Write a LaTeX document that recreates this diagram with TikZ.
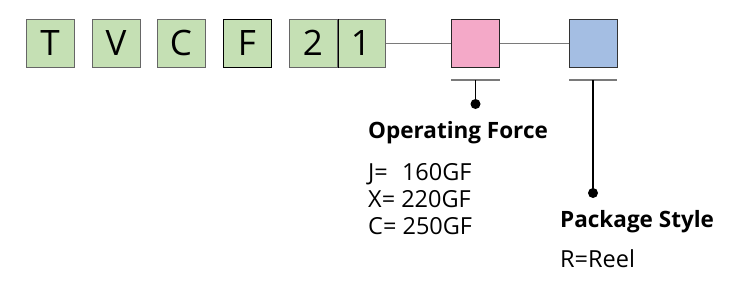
\documentclass[tikz,border=0pt]{standalone}
\usepackage{fontspec}
\setmainfont{Open Sans}
\definecolor{gfill}{HTML}{C5E0B4}
\definecolor{pfill}{HTML}{F4A9C8}
\definecolor{bfill}{HTML}{A4BEE3}
\definecolor{lgray}{HTML}{7A7A7A}
\begin{document}
\begin{tikzpicture}[x=1pt,y=-1pt,
  cbox/.style={line width=1.2pt,minimum width=48pt,minimum height=48pt,inner sep=0pt,anchor=north west,fill=#1},
  letter/.style={font=\fontsize{35}{35}\selectfont,anchor=base},
  conn/.style={draw=lgray,line width=1.6pt},
  ulin/.style={draw=lgray,line width=1.6pt},
  vlin/.style={draw=black,line width=1.3pt},
  dotc/.style={circle,fill=black,inner sep=0pt,minimum size=10pt},
  title/.style={font=\bfseries\fontsize{22.5}{22.5}\selectfont,anchor=base west,inner sep=0pt},
  body/.style={font=\fontsize{23.5}{23.5}\selectfont,anchor=base west,inner sep=0pt}]
\useasboundingbox (0,0) rectangle (755,297);
\node[cbox=gfill,draw=gray!80!black] (bT) at (26,19) {};
\node[cbox=gfill,draw=gray!80!black] (bV) at (92,19) {};
\node[cbox=gfill,draw=gray!80!black] (bC) at (157,19) {};
\node[cbox=gfill,draw=black] (bF) at (223,19) {};
\node[cbox=gfill,draw=gray!80!black] (b2) at (289,19) {};
\node[cbox=gfill,draw=gray!80!black] (b1) at (337,19) {};
\node[cbox=pfill,draw=black!85] (bP) at (451,19) {};
\node[cbox=bfill,draw=black!80] (bB) at (569,19) {};
\draw[draw=black,line width=1.2pt] (b2.north east) -- (b2.south east);
\node[letter] (tT) at (50,55) {T};
\node[letter] (tV) at (116,55) {V};
\node[letter] (tC) at (181,55) {C};
\node[letter] (tF) at (247,55) {F};
\node[letter] (t2) at (313,55) {2};
\node[letter] (t1) at (361,55) {1};
\draw[conn] (b1.east) -- (bP.west);
\draw[conn] (bP.east) -- (bB.west);
\coordinate (uPl) at (451,80);
\coordinate (uPr) at (500,80);
\coordinate (uPm) at (475.5,80);
\coordinate (uBl) at (569,80);
\coordinate (uBr) at (617,80);
\coordinate (uBm) at (593,80);
\draw[ulin] (uPl) -- (uPr);
\draw[ulin] (uBl) -- (uBr);
\node[dotc] (dP) at (475.5,104) {};
\node[dotc] (dB) at (593,193) {};
\draw[vlin] (uPm) -- (dP.center);
\draw[vlin] (uBm) -- (dB.center);
\node[title] (of) at (368,138) {Operating Force};
\node[body] (j) at (368,180) {J=\hspace{0.6em}160GF};
\node[body] (x) at (368,207) {X= 220GF};
\node[body] (c) at (368,234) {C= 250GF};
\node[title] (ps) at (560,227) {Package Style};
\node[body] (r) at (560,267) {R=Reel};
\end{tikzpicture}
\end{document}
